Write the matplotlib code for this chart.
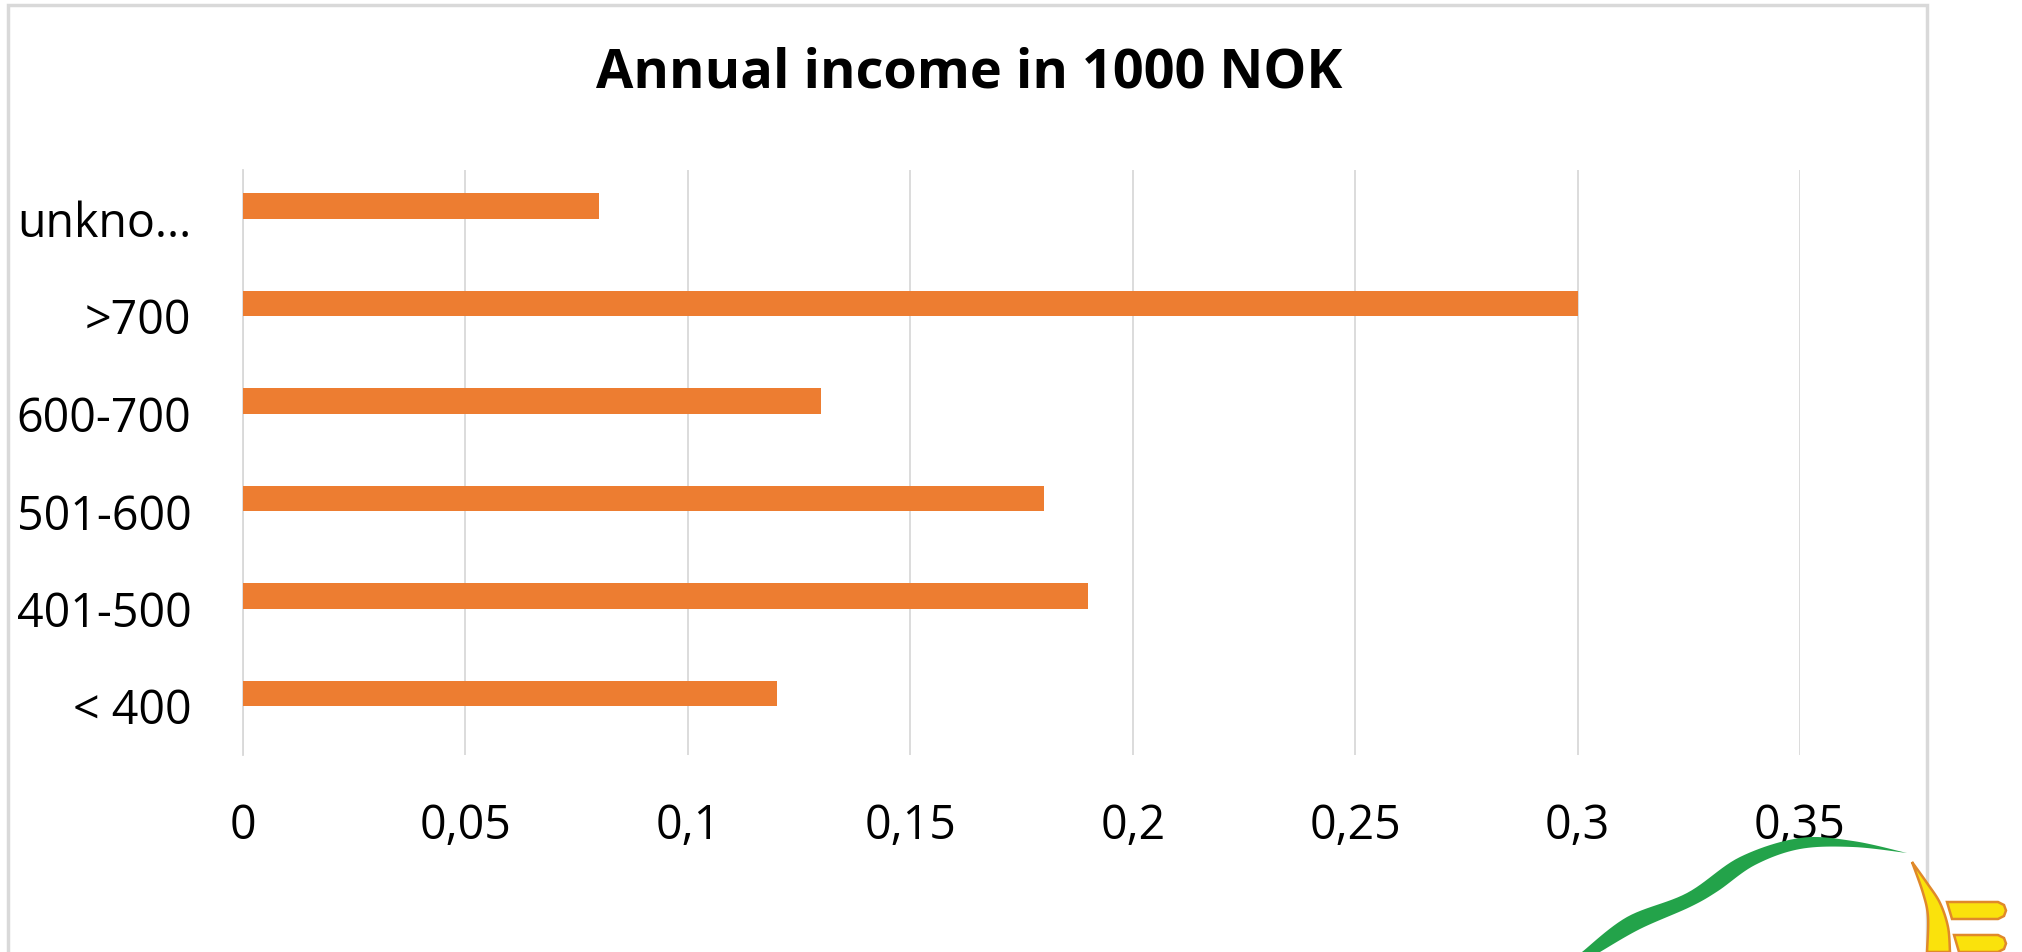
import numpy as np
import matplotlib
matplotlib.use("Agg")
import matplotlib.pyplot as plt
from matplotlib.patches import Rectangle, Polygon
from matplotlib.ticker import FuncFormatter

# data (bottom to top, as drawn)
categories = ["< 400", "401-500", "501-600", "600-700", ">700", "unkno..."]
shares = [0.12, 0.19, 0.18, 0.13, 0.30, 0.08]
x_ticks = [0, 0.05, 0.1, 0.15, 0.2, 0.25, 0.3, 0.35]

W, H = 2022, 952
plt.rcParams['font.family'] = ['Open Sans', 'DejaVu Sans']

fig = plt.figure(figsize=(W / 100, H / 100), dpi=100)
fig.patch.set_facecolor("white")

def px(x, y):
    # figure pixel (from top-left) -> figure fraction
    return (x / W, 1 - y / H)

def smooth(pts, n=12):
    # catmull-rom through the given points
    pts = np.asarray(pts, float)
    p = np.vstack([pts[0], pts, pts[-1]])
    out = []
    for i in range(1, len(p) - 2):
        p0, p1, p2, p3 = p[i - 1], p[i], p[i + 1], p[i + 2]
        for t in np.linspace(0, 1, n, endpoint=False):
            out.append(0.5 * ((2 * p1) + (-p0 + p2) * t +
                              (2 * p0 - 5 * p1 + 4 * p2 - p3) * t ** 2 +
                              (-p0 + 3 * p1 - 3 * p2 + p3) * t ** 3))
    out.append(pts[-1])
    return [px(*q) for q in out]

ax = fig.add_axes([243 / W, 1 - 755 / H, (1800 - 243) / W, (755 - 170) / H])

# Excel leaves room for an empty second series, so bars sit above band centre
ypos = np.arange(len(categories))
ax.barh(ypos + 0.13, shares, height=0.263, color="#ED7D31", zorder=3)

ax.set_xlim(0, 0.35)
ax.set_ylim(-0.5, len(categories) - 0.5)
ax.set_xticks(x_ticks)
ax.xaxis.set_major_formatter(FuncFormatter(lambda v, p: ("%g" % v).replace(".", ",")))
ax.set_yticks(ypos)
ax.set_yticklabels(categories)

ax.grid(axis="x", color="#d9d9d9", linewidth=1.3, zorder=0)
for s in ["top", "right", "bottom"]:
    ax.spines[s].set_visible(False)
ax.spines["left"].set_color("#d9d9d9")
ax.spines["left"].set_linewidth(1.3)
ax.tick_params(axis="both", length=0, labelsize=33.5, colors="black")
ax.tick_params(axis="y", pad=37)
ax.tick_params(axis="x", pad=34)

fig.text(969 / W, 1 - 74 / H, "Annual income in 1000 NOK", ha="center", va="center",
         fontsize=39, fontweight="bold")

# chart area border
fig.patches.append(Rectangle(px(8, 1010), (1927 - 8) / W, (1010 - 5) / H,
                             transform=fig.transFigure, fill=False,
                             edgecolor="#d9d9d9", linewidth=2.5))

# logo fragment, bottom right
green_top = [(1582, 952), (1627, 917), (1687, 893), (1740, 857), (1800, 838), (1853, 841), (1907, 853)]
green_bot = [(1907, 853), (1853, 847), (1800, 849), (1755, 865), (1718, 891), (1690, 907),
             (1640, 929), (1600, 952)]
fig.patches.append(Polygon(smooth(green_top) + smooth(green_bot), closed=True,
                           transform=fig.transFigure, facecolor="#23A34A", edgecolor="none"))

cres_out = [(1912, 862), (1927, 883), (1940, 903), (1948, 927), (1950, 952)]
cres_in = [(1927, 952), (1928, 917), (1923, 893), (1912, 862)]
fig.patches.append(Polygon(smooth(cres_out) + smooth(cres_in), closed=True,
                           transform=fig.transFigure, facecolor="#FAE20C",
                           edgecolor="#E0892A", linewidth=1.8))

for (top, bot, lx) in [(902, 919, 1947), (935, 952, 1954)]:
    bar = [(lx, top), (1998, top), (2004, top + 3), (2006, (top + bot) / 2),
           (2004, bot - 3), (1998, bot), (lx + 5, bot)]
    fig.patches.append(Polygon([px(*p) for p in bar], closed=True, transform=fig.transFigure,
                               facecolor="#FAE20C", edgecolor="#E0892A", linewidth=1.8))

fig.savefig("out.png", dpi=100, facecolor="white")
